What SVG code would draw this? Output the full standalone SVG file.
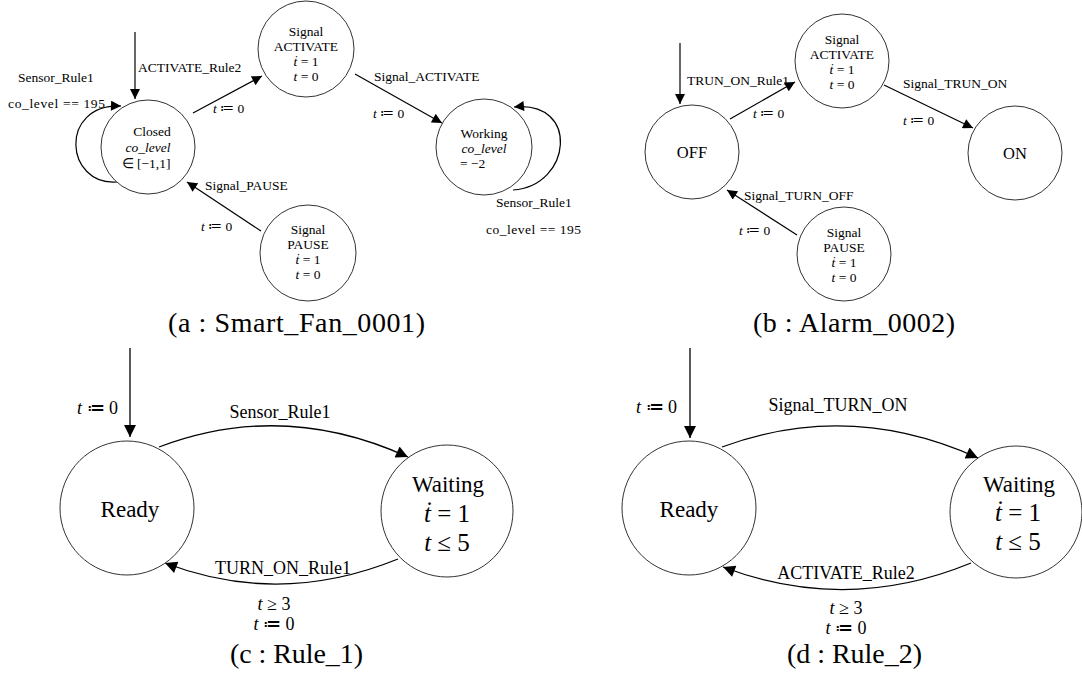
<svg xmlns="http://www.w3.org/2000/svg" width="1082" height="673" viewBox="0 0 1082 673">
  <defs>
    <marker id="arrow" viewBox="0 0 10 10" refX="10" refY="5" markerWidth="11" markerHeight="10" markerUnits="userSpaceOnUse" orient="auto">
      <path d="M0,0 L10,5 L0,10 z" fill="#000"/>
    </marker>
    <marker id="arrowL" viewBox="0 0 10 10" refX="10" refY="5" markerWidth="13" markerHeight="12" markerUnits="userSpaceOnUse" orient="auto">
      <path d="M0,0 L10,5 L0,10 z" fill="#000"/>
    </marker>
  </defs>
  <style>
    .state { fill: #fff; stroke: #333; stroke-width: 1; }
    .edge { fill: none; stroke: #000; stroke-width: 1.2; marker-end: url(#arrow); }
    .edgeL { fill: none; stroke: #000; stroke-width: 1.3; marker-end: url(#arrowL); }
    text { font-family: "Liberation Serif", "Times New Roman", serif; fill: #000; }
    .s { font-size: 13.5px; }
    .n { font-size: 13.5px; text-anchor: middle; }
    .m { font-style: italic; }
    .L { font-size: 18px; }
    .big { font-size: 23px; text-anchor: middle; }
    .bigm { font-size: 25px; text-anchor: middle; }
    .cap { font-size: 28px; }
  </style>
  <rect width="1082" height="673" fill="#fff"/>

  <!-- connectors -->
  <g id="connectors">
    <!-- (a) Smart_Fan_0001 -->
    <line class="edge" x1="135" y1="32" x2="135" y2="99"/>
    <path class="edge" d="M117,182 C65,186 58,104 121,106"/>
    <line class="edge" x1="193" y1="113" x2="262" y2="76"/>
    <line class="edge" x1="355" y1="74" x2="442" y2="123"/>
    <path class="edge" d="M513,190 C572,186 580,100 514,107"/>
    <line class="edge" x1="261" y1="231" x2="187" y2="182"/>
    <!-- (b) Alarm_0002 -->
    <line class="edge" x1="680" y1="43" x2="680" y2="104"/>
    <line class="edge" x1="730" y1="119" x2="795" y2="82"/>
    <line class="edge" x1="884" y1="85" x2="973" y2="128"/>
    <line class="edge" x1="797" y1="235" x2="727" y2="190"/>
    <!-- (c) Rule_1 -->
    <line class="edgeL" x1="130" y1="348" x2="130" y2="437"/>
    <path class="edgeL" d="M159,447 Q283,400 408,457"/>
    <path class="edgeL" d="M398,559 Q280,607 165,563"/>
    <!-- (d) Rule_2 -->
    <line class="edgeL" x1="690" y1="348" x2="690" y2="438"/>
    <path class="edgeL" d="M722,447 Q850,400 978,458"/>
    <path class="edgeL" d="M971,563 Q847,614 723,567"/>
  </g>

  <!-- edge labels -->
  <g id="edge-labels">
    <text class="s" x="138" y="72">ACTIVATE_Rule2</text>
    <text class="s" x="18" y="82">Sensor_Rule1</text>
    <text class="s" x="8" y="108" textLength="97">co_level == 195</text>
    <text class="s" x="213" y="113"><tspan class="m">t</tspan> ≔ 0</text>
    <text class="s" x="374" y="81">Signal_ACTIVATE</text>
    <text class="s" x="373" y="118"><tspan class="m">t</tspan> ≔ 0</text>
    <text class="s" x="496" y="207">Sensor_Rule1</text>
    <text class="s" x="486" y="234" textLength="95">co_level == 195</text>
    <text class="s" x="205" y="190">Signal_PAUSE</text>
    <text class="s" x="201" y="231"><tspan class="m">t</tspan> ≔ 0</text>

    <text class="s" x="687" y="85">TRUN_ON_Rule1</text>
    <text class="s" x="753" y="118"><tspan class="m">t</tspan> ≔ 0</text>
    <text class="s" x="903" y="88">Signal_TRUN_ON</text>
    <text class="s" x="903" y="125"><tspan class="m">t</tspan> ≔ 0</text>
    <text class="s" x="744" y="200">Signal_TURN_OFF</text>
    <text class="s" x="739" y="235"><tspan class="m">t</tspan> ≔ 0</text>

    <text class="L" x="77" y="414"><tspan class="m">t</tspan> ≔ 0</text>
    <text class="L" x="280" y="418" text-anchor="middle">Sensor_Rule1</text>
    <text class="L" x="283" y="574" text-anchor="middle">TURN_ON_Rule1</text>
    <text class="L" x="274" y="610" text-anchor="middle"><tspan class="m">t</tspan> ≥ 3</text>
    <text class="L" x="274" y="630" text-anchor="middle"><tspan class="m">t</tspan> ≔ 0</text>

    <text class="L" x="636" y="413"><tspan class="m">t</tspan> ≔ 0</text>
    <text class="L" x="838" y="411" text-anchor="middle">Signal_TURN_ON</text>
    <text class="L" x="846" y="579" text-anchor="middle">ACTIVATE_Rule2</text>
    <text class="L" x="846" y="614" text-anchor="middle"><tspan class="m">t</tspan> ≥ 3</text>
    <text class="L" x="846" y="634" text-anchor="middle"><tspan class="m">t</tspan> ≔ 0</text>
  </g>

  <!-- (a) nodes -->
  <g id="a-closed">
    <circle class="state" cx="148" cy="147" r="47"/>
    <text class="n" x="152" y="136">Closed</text>
    <text class="n m" x="148" y="152">co_level</text>
    <text class="n" x="146" y="168">∈ [−1,1]</text>
  </g>
  <g id="a-signal-activate">
    <circle class="state" cx="306" cy="49" r="48"/>
    <text class="n" x="306" y="36">Signal</text>
    <text class="n" x="306" y="51">ACTIVATE</text>
    <text class="n" x="306" y="66"><tspan class="m">ṫ</tspan> = 1</text>
    <text class="n" x="306" y="81"><tspan class="m">t</tspan> = 0</text>
  </g>
  <g id="a-working">
    <circle class="state" cx="484" cy="147" r="48"/>
    <text class="n" x="484" y="138">Working</text>
    <text class="n m" x="484" y="153">co_level</text>
    <text class="s" x="460" y="168">= −2</text>
  </g>
  <g id="a-signal-pause">
    <circle class="state" cx="308" cy="253" r="48"/>
    <text class="n" x="308" y="234">Signal</text>
    <text class="n" x="308" y="249">PAUSE</text>
    <text class="n" x="308" y="264"><tspan class="m">ṫ</tspan> = 1</text>
    <text class="n" x="308" y="279"><tspan class="m">t</tspan> = 0</text>
  </g>

  <!-- (b) nodes -->
  <g id="b-off">
    <circle class="state" cx="692" cy="152" r="47"/>
    <text class="n" x="692" y="158" style="font-size:16.5px">OFF</text>
  </g>
  <g id="b-signal-activate">
    <circle class="state" cx="842" cy="61" r="47"/>
    <text class="n" x="842" y="44">Signal</text>
    <text class="n" x="842" y="59">ACTIVATE</text>
    <text class="n" x="842" y="74"><tspan class="m">ṫ</tspan> = 1</text>
    <text class="n" x="842" y="89"><tspan class="m">t</tspan> = 0</text>
  </g>
  <g id="b-on">
    <circle class="state" cx="1015" cy="153" r="47"/>
    <text class="n" x="1015" y="159" style="font-size:16.5px">ON</text>
  </g>
  <g id="b-signal-pause">
    <circle class="state" cx="844" cy="254" r="47"/>
    <text class="n" x="844" y="237">Signal</text>
    <text class="n" x="844" y="252">PAUSE</text>
    <text class="n" x="844" y="267"><tspan class="m">ṫ</tspan> = 1</text>
    <text class="n" x="844" y="282"><tspan class="m">t</tspan> = 0</text>
  </g>

  <!-- (c) nodes -->
  <g id="c-ready">
    <circle class="state" cx="127" cy="508" r="67"/>
    <text class="big" x="130" y="517">Ready</text>
  </g>
  <g id="c-waiting">
    <circle class="state" cx="447" cy="511" r="66"/>
    <text class="big" x="448" y="492">Waiting</text>
    <text class="bigm" x="447" y="522"><tspan class="m">ṫ</tspan> = 1</text>
    <text class="bigm" x="447" y="551"><tspan class="m">t</tspan> ≤ 5</text>
  </g>

  <!-- (d) nodes -->
  <g id="d-ready">
    <circle class="state" cx="689" cy="508" r="67"/>
    <text class="big" x="689" y="517">Ready</text>
  </g>
  <g id="d-waiting">
    <circle class="state" cx="1016" cy="512" r="66"/>
    <text class="big" x="1019" y="492">Waiting</text>
    <text class="bigm" x="1018" y="521"><tspan class="m">ṫ</tspan> = 1</text>
    <text class="bigm" x="1018" y="550"><tspan class="m">t</tspan> ≤ 5</text>
  </g>

  <!-- captions -->
  <g id="captions">
    <text class="cap" x="168" y="332" textLength="257">(a : Smart_Fan_0001)</text>
    <text class="cap" x="753" y="332" textLength="202">(b : Alarm_0002)</text>
    <text class="cap" x="230" y="663" textLength="133">(c : Rule_1)</text>
    <text class="cap" x="787" y="663" textLength="135">(d : Rule_2)</text>
  </g>
</svg>
